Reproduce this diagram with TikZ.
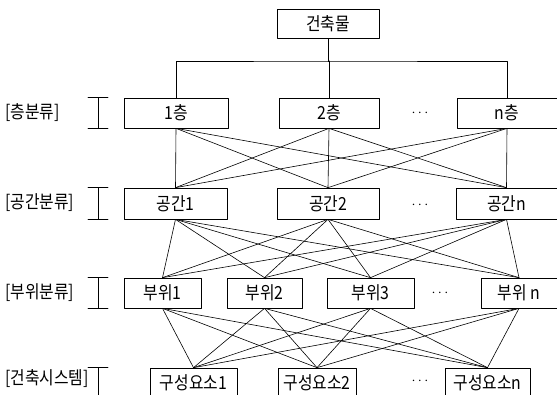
\documentclass[tikz,border=0pt]{standalone}
\usepackage{fontspec}
\setmainfont[FakeStretch=0.88]{Noto Sans CJK KR}
\usepackage{tikz}

\begin{document}
\begin{tikzpicture}[x=1pt,y=-1pt,line cap=round,line join=round,
	box/.style={draw,line width=0.7pt,minimum height=30pt,inner sep=0pt,font=\fontsize{18}{18}\selectfont},
	lvl/.style={anchor=west,inner sep=0pt,font=\fontsize{18}{18}\selectfont},
	dots/.style={inner sep=0pt,font=\Large},
	link/.style={line width=0.6pt}]
		\useasboundingbox (0,0) rectangle (557,394);
		\clip (0,0) rectangle (557,394);
		\node[box,minimum width=102pt,minimum height=29pt] (top) at (328,24) {건축물};
		\node[box,minimum width=104pt] (f1) at (176,113) {1층};
		\node[box,minimum width=100pt] (f2) at (329,113) {2층};
		\node[box,minimum width=100pt] (fn) at (507,113) {n층};
		\node[dots] (d1) at (420,113) {$\cdots$};
		\node[box,minimum width=103pt,minimum height=31pt] (s1) at (175.5,203.5) {공간1};
		\node[box,minimum width=102pt,minimum height=31pt] (s2) at (328,203.5) {공간2};
		\node[box,minimum width=101pt,minimum height=31pt] (sn) at (506.5,203.5) {공간n};
		\node[dots] (d2) at (420,205) {$\cdots$};
		\node[box,minimum width=77pt] (p1) at (162.5,293) {부위1};
		\node[box,minimum width=75pt] (p2) at (264.5,293) {부위2};
		\node[box,minimum width=87pt] (p3) at (370.5,293) {부위3};
		\node[box,minimum width=76pt] (pn) at (519,293) {부위 n};
		\node[dots] (d3) at (440,293) {$\cdots$};
		\node[box,minimum width=87pt] (c1) at (193.5,383) {구성요소1};
		\node[box,minimum width=78pt] (c2) at (317,383) {구성요소2};
		\node[box,minimum width=85pt] (cn) at (487.5,383) {구성요소n};
		\node[dots] (d4) at (420,381) {$\cdots$};
		\node[lvl] (l1) at (5,113) {[층분류]};
		\node[lvl] (l2) at (5,203) {[공간분류]};
		\node[lvl] (l3) at (5,293) {[부위분류]};
		\node[lvl] (l4) at (5,379) {[건축시스템]};
		\foreach \n in {f1,s1,p1,c1}
		\draw[link] (88,0 |- \n.north) -- (108,0 |- \n.north) (98,0 |- \n.north) -- (98,0 |- \n.south) (88,0 |- \n.south) -- (108,0 |- \n.south);
		\coordinate (bus) at (329,61);
		\draw[link] (top.south) -- (top.south |- bus) (f1.north) |- (bus) -| (fn.north) (bus) -- (f2.north);
		\foreach \a in {f1,f2,fn}
		\foreach \b in {s1,s2,sn}
		\draw[link] (\a.south) -- (\b.north);
		\foreach \a in {s1,s2,sn}
		\foreach \b in {p1,p2,p3,pn}
		\draw[link] (\a.south) -- (\b.north);
		\foreach \a in {p1,p2,p3,pn}
		\foreach \b in {c1,c2,cn}
		\draw[link] (\a.south) -- (\b.north);
\end{tikzpicture}
\end{document}
